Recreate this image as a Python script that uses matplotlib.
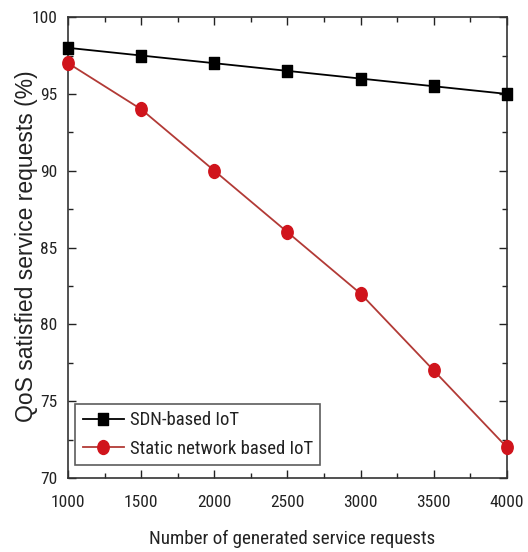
import matplotlib
matplotlib.use("Agg")
import matplotlib.pyplot as plt
from matplotlib.ticker import MultipleLocator
from matplotlib.path import Path
from matplotlib.transforms import Affine2D

x = [1000, 1500, 2000, 2500, 3000, 3500, 4000]
sdn = [98.0, 97.5, 97.0, 96.5, 96.0, 95.5, 95.0]
static = [97.0, 94.0, 90.0, 86.0, 82.0, 77.0, 72.0]

COND = ['Roboto Condensed', 'Liberation Sans', 'DejaVu Sans']
plt.rcParams['font.family'] = COND

# slightly narrow markers, as in the reference
sq = Path([(-0.4, -0.5), (0.4, -0.5), (0.4, 0.5), (-0.4, 0.5), (-0.4, -0.5)],
          [Path.MOVETO, Path.LINETO, Path.LINETO, Path.LINETO, Path.CLOSEPOLY])
ell = Path.unit_circle().transformed(Affine2D().scale(0.82, 1.0))

fig = plt.figure(figsize=(5.28, 5.52), dpi=100)
ax = fig.add_axes([0.129, 0.134, 0.831, 0.835])

ax.plot(x, sdn, color='black', marker=sq, markersize=9, linewidth=1.3,
        label='SDN-based IoT', clip_on=False, zorder=3)
ax.plot(x, static, color='#b23a36', marker=ell, markersize=10, markerfacecolor='#d0141c',
        markeredgecolor='#d0141c', linewidth=1.3, label='Static network based IoT',
        clip_on=False, zorder=3)

ax.set_xlim(1000, 4000)
ax.set_ylim(70, 100)
ax.xaxis.set_major_locator(MultipleLocator(500))
ax.xaxis.set_minor_locator(MultipleLocator(250))
ax.yaxis.set_major_locator(MultipleLocator(5))
ax.yaxis.set_minor_locator(MultipleLocator(2.5))
ax.tick_params(which='both', direction='in', top=True, right=True, labelsize=12.5, width=1.0,
               colors='#222222')
ax.tick_params(axis='x', which='major', pad=12.5)
ax.tick_params(axis='y', which='major', pad=7.5)
ax.tick_params(which='major', length=6)
ax.tick_params(which='minor', length=3.5)
for s in ax.spines.values():
    s.set_linewidth(1.2)
    s.set_color('#333333')

ax.set_xlabel('Number of generated service requests', fontsize=13.7, color='#222222')
ax.xaxis.set_label_coords(0.51, -0.113)
ax.set_ylabel('QoS satisfied service requests (%)', fontsize=16.5, color='#222222',
              family=['Liberation Sans', 'DejaVu Sans'])
ax.yaxis.set_label_coords(-0.068, 0.503)

leg = ax.legend(loc='lower left', fontsize=13.5, frameon=True, fancybox=False,
                edgecolor='#333333', bbox_to_anchor=(0.016, 0.028), borderaxespad=0,
                handlelength=2.2, handletextpad=0.3, borderpad=0.4, labelspacing=0.55)
leg.get_frame().set_linewidth(1.2)
for t in leg.get_texts():
    t.set_color('#222222')

fig.savefig('out.png', dpi=100)
